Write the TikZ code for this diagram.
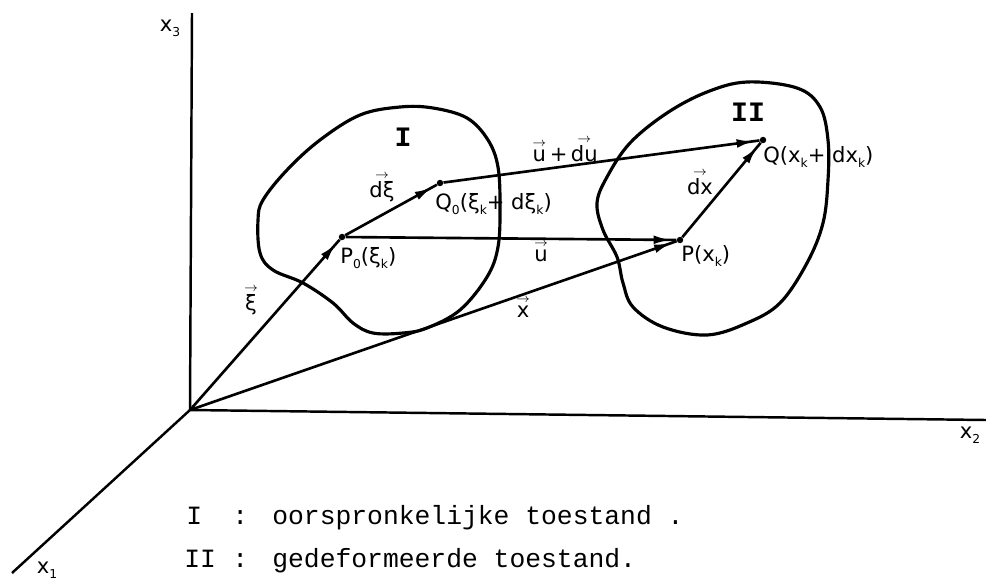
\documentclass[tikz,border=0pt]{standalone}
\usepackage{fontspec}
\usetikzlibrary{arrows.meta, decorations.markings}
\newfontfamily\labfont{DejaVu Sans}
\newfontfamily\typefont{Liberation Mono}
\newcommand{\low}[1]{\raisebox{-0.45ex}{\scriptsize #1}}
\newcommand{\arr}[1]{\shortstack{\scriptsize$\rightarrow$\\[-1pt]#1}}

\begin{document}
\begin{tikzpicture}[
  x=0.02cm, y=-0.02cm,
  pt/.style={circle, fill, inner sep=1.3pt},
  vec/.style={line width=1.5pt, postaction={decorate},
    decoration={markings, mark=at position -3pt with {\arrow{Latex[length=10pt, width=5pt]}}}},
  axis/.style={line width=1.4pt},
  blob/.style={line width=1.8pt},
  lab/.style={font=\labfont\fontsize{12}{14}\selectfont, inner sep=0pt},
  roman/.style={font=\typefont\bfseries\fontsize{16}{18}\selectfont, inner sep=0pt},
  legend/.style={font=\typefont\fontsize{15}{18}\selectfont, inner sep=0pt, anchor=base west}
]
\useasboundingbox (0,0) rectangle (986,582);

\coordinate (O) at (190,410);
\coordinate (X3) at (192,13);
\coordinate (X2) at (986,420);
\coordinate (X1) at (12,573);
\draw[axis] (X3) -- (O) -- (X2);
\draw[axis] (O) -- (X1);

\draw[blob] plot[smooth cycle, tension=0.6] coordinates {(400,107) (433,108) (467,118) (488,140) (498,167) (500,207) (498,247) (487,277) (460,310) (427,328) (403,333) (373,333) (353,323) (333,303) (303,283) (273,270) (260,253) (258,220) (263,200) (287,170) (320,140) (360,115)};
\draw[blob] plot[smooth cycle, tension=0.6] coordinates {(747,82) (797,88) (820,107) (828,140) (828,180) (823,223) (807,263) (780,303) (747,323) (707,335) (663,327) (633,307) (623,283) (617,257) (603,230) (597,203) (607,177) (630,143) (667,113) (707,92)};

\node[pt] (P0) at (342,237) {};
\node[pt] (Q0) at (440,183) {};
\node[pt] (P) at (680,240) {};
\node[pt] (Q) at (763,140) {};

\draw[vec] (O) -- (P0);
\draw[vec] (P0) -- (Q0);
\draw[vec] (P0) -- (P);
\draw[vec] (O) -- (P);
\draw[vec] (Q0) -- (Q);
\draw[vec] (P) -- (Q);

\node[roman] (I) at (403,137) {I};
\node[roman] (II) at (748,112) {II};

\node[lab] (xi) at (251,301) {\arr{ξ}};
\node[lab] (dxi) at (382,188) {\arr{dξ}};
\node[lab] (u) at (541,252) {\arr{u}};
\node[lab] (x) at (523,308) {\arr{x}};
\node[lab] (udu) at (565,150) {\arr{u}\,+\,\arr{du}};
\node[lab] (dx) at (700,183) {\arr{dx}};

\node[lab, anchor=north west] (P0lab) at (340,247) {P\low{0}(ξ\low{k})};
\node[lab, anchor=north west] (Q0lab) at (435,193) {Q\low{0}(ξ\low{k}+ dξ\low{k})};
\node[lab, anchor=north west] (Plab) at (681,245) {P(x\low{k})};
\node[lab, anchor=north west] (Qlab) at (763,146) {Q(x\low{k}+ dx\low{k})};

\node[lab] (x3lab) at (170,28) {x\low{3}};
\node[lab] (x2lab) at (970,435) {x\low{2}};
\node[lab] (x1lab) at (47,570) {x\low{1}};

\node[legend] (l1) at (186,524) {I};
\node[legend] (c1) at (232,524) {:};
\node[legend] (t1) at (272,524) {oorspronkelijke toestand .};
\node[legend] (l2) at (184,567) {II};
\node[legend] (c2) at (232,567) {:};
\node[legend] (t2) at (272,567) {gedeformeerde toestand.};
\end{tikzpicture}
\end{document}
